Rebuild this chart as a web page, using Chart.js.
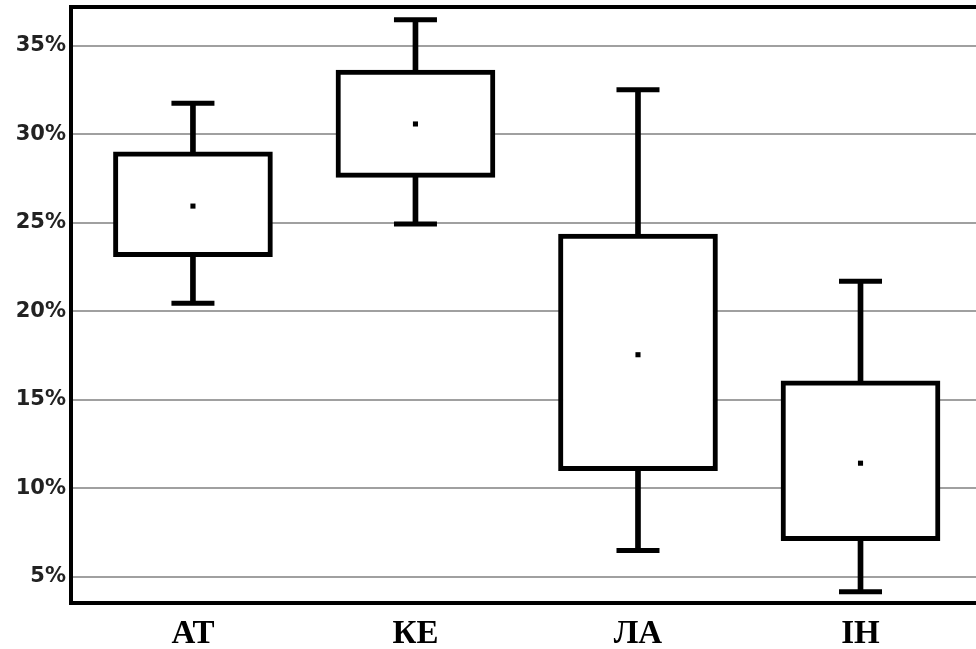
<!DOCTYPE html>
<html>
<head>
<meta charset="utf-8">
<script src="https://cdn.jsdelivr.net/npm/chart.js@4.4.1/dist/chart.umd.min.js"></script>
<style>
	body { margin: 0; background: #fff; }
	#caja { width: 976px; height: 649px; }
</style>
</head>
<body>
<div id="caja"><canvas id="Cajas"></canvas></div>
<script>
/* Datos de las cajas (en %) */
const categorias = ["АТ", "КЕ", "ЛА", "ІН"];
const posiciones = [1, 2, 3, 4];
const minimos = [20.45, 24.93, 6.47, 4.15];
const cuartil1 = [23.08, 27.56, 10.99, 7.03];
const medias = [25.94, 30.58, 17.54, 11.41];
const cuartil3 = [29.01, 33.63, 24.36, 16.06];
const maximos = [31.75, 36.47, 32.51, 21.69];
const ticksY = [5, 10, 15, 20, 25, 30, 35];

/* Borde superior del area del grafico */
const bordeArriba = {
	id: "bordeArriba",
	afterDraw(chart) {
		const ctx = chart.ctx;
		const a = chart.chartArea;
		ctx.save();
		ctx.strokeStyle = "#000";
		ctx.lineWidth = 4;
		ctx.beginPath();
		ctx.moveTo(a.left - 2, a.top);
		ctx.lineTo(a.right, a.top);
		ctx.stroke();
		ctx.restore();
	}
};

const G4cajas = document.getElementById("Cajas").getContext("2d");
let Cajas = new Chart(G4cajas, {
	type: "bar",
	data: {
		datasets: [
			{
				// bigotes (linea vertical de min a max)
				label: "Bigote",
				data: posiciones.map((x, i) => ({ x: x, y: [minimos[i], maximos[i]] })),
				backgroundColor: "#000",
				borderWidth: 0,
				barThickness: 5,
				grouped: false,
				order: 4,
			},
			{
				// caja del primer al tercer cuartil
				label: "Caja",
				data: posiciones.map((x, i) => ({ x: x, y: [cuartil1[i], cuartil3[i]] })),
				backgroundColor: "#fff",
				borderColor: "#000",
				borderWidth: 5,
				borderSkipped: false,
				barThickness: 159,
				grouped: false,
				order: 3,
			},
			{
				type: "scatter",
				label: "Max",
				data: posiciones.map((x, i) => ({ x: x, y: maximos[i] })),
				pointStyle: "line",
				radius: 21.5,
				borderColor: "#000",
				borderWidth: 5,
				order: 2,
			},
			{
				type: "scatter",
				label: "Min",
				data: posiciones.map((x, i) => ({ x: x, y: minimos[i] })),
				pointStyle: "line",
				radius: 21.5,
				borderColor: "#000",
				borderWidth: 5,
				order: 2,
			},
			{
				type: "scatter",
				label: "Media",
				data: posiciones.map((x, i) => ({ x: x, y: medias[i] })),
				pointStyle: "rect",
				radius: 3.6,
				backgroundColor: "#000",
				borderWidth: 0,
				order: 1,
			}
		],
	},
	options: {
		responsive: true,
		maintainAspectRatio: false,
		animation: false,
		events: [],
		layout: { autoPadding: false, padding: { top: 7, left: 0, right: 0, bottom: 0 } },
		scales: {
			x: {
				type: "linear",
				offset: false,
				min: 0.452,
				max: 4.519,
				afterFit: (scale) => {
					scale.height = 46;
					scale.paddingLeft = 0;
					scale.paddingRight = 0;
				},
				afterBuildTicks: (scale) => { scale.ticks = posiciones.map(v => ({ value: v })); },
				grid: { display: false, drawTicks: false },
				border: { display: true, color: "#000", width: 4 },
				ticks: {
					color: "#000",
					padding: 15,
					font: { family: "Liberation Serif", weight: "bold", size: 33, lineHeight: 1 },
					callback: (v) => categorias[posiciones.indexOf(v)],
				}
			},
			y: {
				min: 3.51,
				max: 37.19,
				afterFit: (scale) => {
					scale.width = 71;
					scale.paddingTop = 0;
					scale.paddingBottom = 0;
				},
				afterBuildTicks: (scale) => { scale.ticks = ticksY.map(v => ({ value: v })); },
				grid: { color: "#a0a0a0", lineWidth: 2, drawTicks: false },
				border: { display: true, color: "#000", width: 4 },
				ticks: {
					color: "#222",
					padding: 5,
					font: { family: "DejaVu Sans", weight: "bold", size: 21 },
					callback: (v) => v + "%",
				}
			}
		},
		plugins: {
			legend: { display: false },
			tooltip: { enabled: false }
		}
	},
	plugins: [bordeArriba]
});
</script>
</body>
</html>
